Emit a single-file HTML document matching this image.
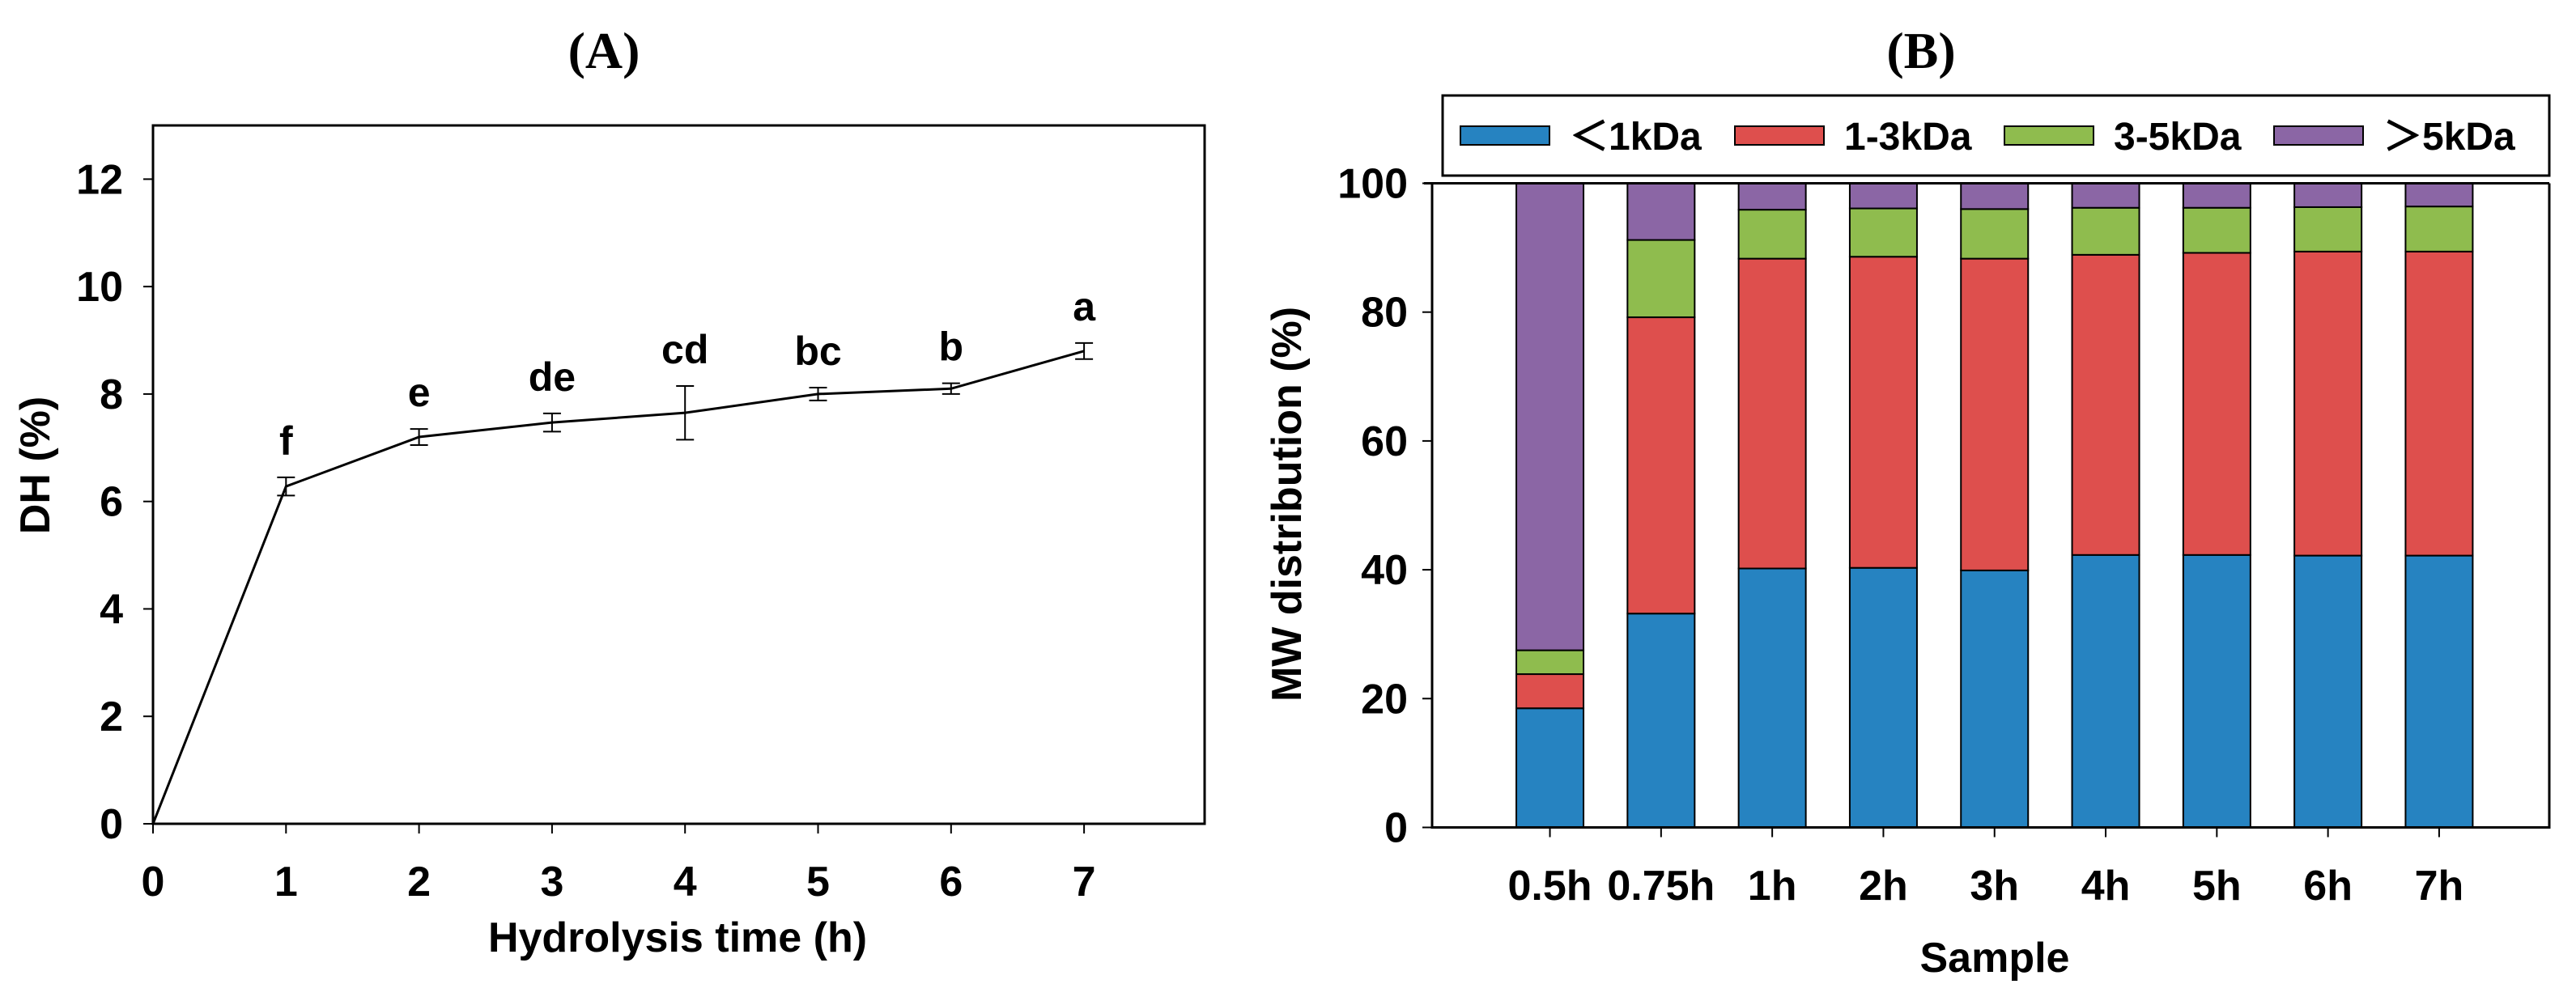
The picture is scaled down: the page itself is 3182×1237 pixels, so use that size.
<!DOCTYPE html>
<html><head><meta charset="utf-8"><style>
html,body{margin:0;padding:0;background:#fff;overflow:hidden}
svg{display:block}
.t{font-family:"Liberation Sans",sans-serif;font-weight:bold;fill:#000}
.s{font-family:"Liberation Serif",serif;font-weight:bold;fill:#000}
</style></head><body>
<svg id="chart" width="3182" height="1237" viewBox="0 0 3182 1237" xmlns="http://www.w3.org/2000/svg">
<g id="pa"></g>
<g id="pb"></g>
</svg>
<script>
// Panel A data
const timesA = [0,1,2,3,4,5,6,7];
const dhValues = [0,6.28,7.2,7.47,7.65,8.0,8.1,8.8];
const dhErrors = [0,0.17,0.15,0.17,0.5,0.12,0.1,0.15];
const sigLetters = ["","f","e","de","cd","bc","b","a"];
const yTicksA = [0,2,4,6,8,10,12];
const xTicksA = [0,1,2,3,4,5,6,7];
// Panel B data
const samples = ["0.5h","0.75h","1h","2h","3h","4h","5h","6h","7h"];
const lt1 = [18.5,33.2,40.2,40.3,39.9,42.3,42.3,42.2,42.2];
const k13 = [5.3,46.0,48.1,48.3,48.4,46.6,46.9,47.2,47.2];
const k35 = [3.7,12.0,7.6,7.5,7.7,7.3,7.0,6.9,7.0];
const gt5 = [72.5,8.8,4.1,3.9,4.0,3.8,3.8,3.7,3.6];
const seriesNames = ["＜1kDa","1-3kDa","3-5kDa","＞5kDa"];
const yTicksB = [0,20,40,60,80,100];

const NS="http://www.w3.org/2000/svg";
function mk(parent,tag,attrs,text){const e=document.createElementNS(NS,tag);for(const k in attrs)e.setAttribute(k,attrs[k]);if(text!==undefined)e.textContent=text;parent.appendChild(e);return e;}

// ---- Panel A ----
const pa=document.getElementById('pa');
const aL=189,aR=1488,aT=155,aB=1018;
const xA=v=>aL+v*164.3, yA=v=>aB-v*(aB-aT)/13;
let e;
e=mk(pa,'text',{x:746,y:84,'text-anchor':'middle','font-size':64,class:'s'},'(A)');

e=mk(pa,'rect',{x:aL,y:aT,width:aR-aL,height:aB-aT,fill:'none',stroke:'#000','stroke-width':3});

yTicksA.forEach(v=>{
  e=mk(pa,'line',{x1:aL-12,x2:aL,y1:yA(v),y2:yA(v),stroke:'#000','stroke-width':2});
  
  e=mk(pa,'text',{x:aL-37,y:yA(v)+18,'text-anchor':'end','font-size':52,class:'t'},v);
  
});
xTicksA.forEach(v=>{
  e=mk(pa,'line',{x1:xA(v),x2:xA(v),y1:aB,y2:aB+12,stroke:'#000','stroke-width':2});
  
  e=mk(pa,'text',{x:xA(v),y:1107,'text-anchor':'middle','font-size':52,class:'t'},v);
  
});
e=mk(pa,'text',{x:837,y:1176,'text-anchor':'middle','font-size':52,class:'t'},'Hydrolysis time (h)');

e=mk(pa,'text',{x:0,y:0,'text-anchor':'middle','font-size':52,class:'t',transform:'translate(61,575) rotate(-90)'},'DH (%)');

e=mk(pa,'polyline',{points:timesA.map((t,i)=>xA(t)+','+yA(dhValues[i])).join(' '),fill:'none',stroke:'#000','stroke-width':3});

timesA.forEach((t,i)=>{
  if(dhErrors[i]>0){
    const x=xA(t),y1=yA(dhValues[i]+dhErrors[i]),y2=yA(dhValues[i]-dhErrors[i]);
    e=mk(pa,'path',{d:`M${x},${y1}V${y2}M${x-11},${y1}H${x+11}M${x-11},${y2}H${x+11}`,stroke:'#000','stroke-width':2,fill:'none'});
    
  }
  if(sigLetters[i]){
    e=mk(pa,'text',{x:xA(t),y:yA(dhValues[i]+dhErrors[i])-28,'text-anchor':'middle','font-size':50,class:'t'},sigLetters[i]);
    
  }
});

// ---- Panel B ----
const pb=document.getElementById('pb');
const bL=1769,bR=3149,bT=226.5,bB=1022.5,step=137.3,bw=83;
const yB=v=>bB-v*(bB-bT)/100, xB=i=>bL+(i+1.06)*step;
const colors=['#2683c1','#de4f4d','#8fbc4e','#8b66a5'];
e=mk(pb,'text',{x:2373,y:84,'text-anchor':'middle','font-size':64,class:'s'},'(B)');

const series=[lt1,k13,k35,gt5];
samples.forEach((s,i)=>{
  let acc=0;
  series.forEach((arr,k)=>{
    const v=arr[i];
    e=mk(pb,'rect',{x:xB(i)-bw/2,y:yB(acc+v),width:bw,height:yB(acc)-yB(acc+v),fill:colors[k],stroke:'#000','stroke-width':2});
    
    acc+=v;
  });
  e=mk(pb,'line',{x1:xB(i),x2:xB(i),y1:bB,y2:bB+12,stroke:'#000','stroke-width':2});
  
  e=mk(pb,'text',{x:xB(i),y:1112,'text-anchor':'middle','font-size':52,class:'t'},s);
  
});
e=mk(pb,'path',{d:`M${bL},${bT}V${bB}H${bR}V${bT}M${bL-10},${bT}H${bR}`,fill:'none',stroke:'#000','stroke-width':3});

yTicksB.forEach(v=>{
  e=mk(pb,'line',{x1:bL-12,x2:bL,y1:yB(v),y2:yB(v),stroke:'#000','stroke-width':2});
  
  e=mk(pb,'text',{x:bL-30,y:yB(v)+18,'text-anchor':'end','font-size':52,class:'t'},v);
  
});
e=mk(pb,'text',{x:2464,y:1201,'text-anchor':'middle','font-size':52,class:'t'},'Sample');

e=mk(pb,'text',{x:0,y:0,'text-anchor':'middle','font-size':52,class:'t',transform:'translate(1607,623) rotate(-90)'},'MW distribution (%)');

e=mk(pb,'rect',{x:1782,y:118,width:1367,height:99,fill:'#fff',stroke:'#000','stroke-width':3});

const legX=[1804,2143,2476,2809];
seriesNames.forEach((n,k)=>{
  e=mk(pb,'rect',{x:legX[k],y:156,width:110,height:23,fill:colors[k],stroke:'#000','stroke-width':2});
  
  e=mk(pb,'text',{x:legX[k]+135,y:185,'font-size':48,class:'t'},n);
  
});
</script>
</body></html>
